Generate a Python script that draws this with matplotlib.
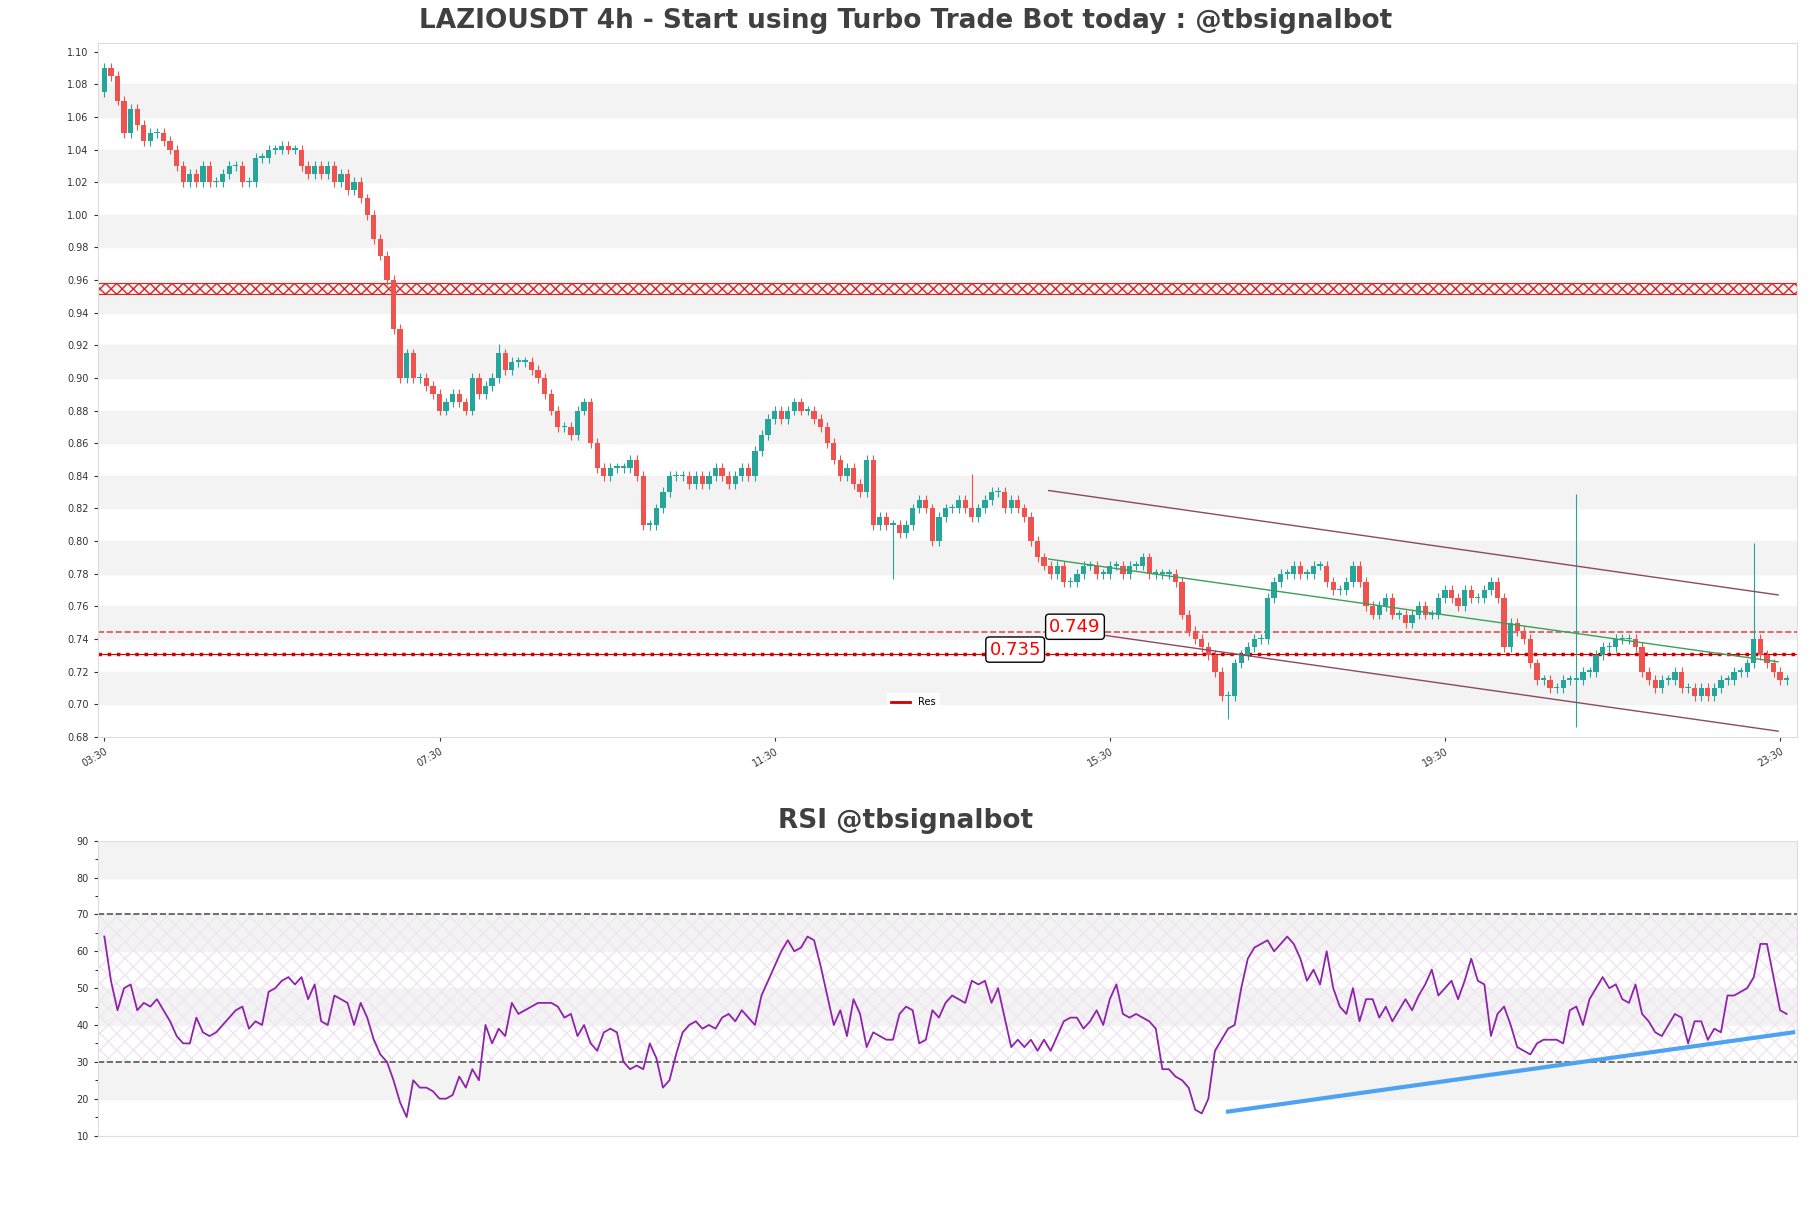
import numpy as np
import matplotlib.pyplot as plt

closes = [1.09, 1.085, 1.07, 1.05, 1.065, 1.055, 1.045,
          1.05, 1.05, 1.045, 1.04, 1.03, 1.02,
          1.025, 1.02, 1.03, 1.02, 1.02, 1.025, 1.03, 1.03,
          1.02, 1.02, 1.035, 1.035, 1.04, 1.04, 1.042, 1.04, 1.04, 1.03,
          1.025, 1.03, 1.025, 1.03, 1.02, 1.025, 1.015, 1.02, 1.01, 1.0,
          0.985, 0.975, 0.96, 0.93, 0.9,
          0.915, 0.9, 0.9, 0.895, 0.89, 0.88, 0.885, 0.89, 0.885, 0.88,
          0.9, 0.89, 0.895, 0.9, 0.915, 0.905, 0.91, 0.91, 0.91, 0.905,
          0.9, 0.89, 0.88, 0.87, 0.87, 0.865, 0.88, 0.885, 0.86, 0.845,
          0.84, 0.845, 0.845, 0.845, 0.85, 0.84, 0.81, 0.81, 0.82, 0.83,
          0.84, 0.84, 0.84, 0.835, 0.84, 0.835, 0.84, 0.845, 0.84, 0.835,
          0.84, 0.845, 0.84, 0.855, 0.865, 0.875, 0.88, 0.875, 0.88, 0.885,
          0.88, 0.88, 0.875, 0.87, 0.86, 0.85, 0.84, 0.845, 0.835, 0.83,
          0.85, 0.81, 0.815, 0.81, 0.81,
          0.805, 0.81, 0.82, 0.825, 0.82, 0.8, 0.815, 0.82, 0.82, 0.825,
          0.82, 0.815, 0.82, 0.825, 0.83, 0.83, 0.82, 0.825, 0.82, 0.815,
          0.8, 0.79, 0.785, 0.78, 0.785, 0.775, 0.775, 0.78, 0.785, 0.785,
          0.78, 0.78, 0.785, 0.785, 0.78, 0.785, 0.785, 0.79, 0.78, 0.78,
          0.78, 0.78, 0.775, 0.755, 0.745, 0.74, 0.735, 0.73, 0.72, 0.705,
          0.705, 0.725, 0.73, 0.735, 0.74, 0.74, 0.765, 0.775, 0.78, 0.78,
          0.785, 0.78, 0.78, 0.785, 0.785, 0.775, 0.77, 0.77, 0.775, 0.785,
          0.775, 0.76, 0.755, 0.76, 0.765, 0.755, 0.755, 0.75, 0.755, 0.76,
          0.755, 0.755, 0.765, 0.77, 0.765, 0.76, 0.77, 0.765, 0.765, 0.77,
          0.775, 0.765, 0.735, 0.75, 0.745, 0.74, 0.725, 0.715, 0.715, 0.71,
          0.71, 0.715, 0.715, 0.715, 0.72, 0.72, 0.73, 0.735, 0.735, 0.74,
          0.74, 0.74, 0.735, 0.72, 0.715, 0.71, 0.715, 0.715, 0.72, 0.71,
          0.71, 0.705, 0.71, 0.705, 0.71, 0.715, 0.715, 0.72, 0.72, 0.725,
          0.74, 0.73, 0.725, 0.72, 0.715, 0.715]
open0 = 1.075
big_highs = {224: 0.829, 251: 0.799, 60: 0.921, 132: 0.841}
big_lows = {224: 0.686, 171: 0.691, 120: 0.777}

rsi = [64, 52, 44, 50, 51, 44, 46, 45, 47, 44,
       41, 37, 35, 35, 42, 38, 37, 38, 40, 42,
       44, 45, 39, 41, 40, 49, 50, 52, 53, 51,
       53, 47, 51, 41, 40, 48, 47, 46, 40, 46,
       42, 36, 32, 30, 25, 19, 15, 25, 23, 23,
       22, 20, 20, 21, 26, 23, 28, 25, 40, 35,
       39, 37, 46, 43, 44, 45, 46, 46, 46, 45,
       42, 43, 37, 40, 35, 33, 38, 39, 38, 30,
       28, 29, 28, 35, 31, 23, 25, 32, 38, 40,
       41, 39, 40, 39, 42, 43, 41, 44, 42, 40,
       48, 52, 56, 60, 63, 60, 61, 64, 63, 56,
       48, 40, 44, 37, 47, 43, 34, 38, 37, 36,
       36, 43, 45, 44, 35, 36, 44, 42, 46, 48,
       47, 46, 52, 51, 52, 46, 50, 42, 34, 36,
       34, 36, 33, 36, 33, 37, 41, 42, 42, 39,
       41, 44, 40, 47, 51, 43, 42, 43, 42, 41,
       39, 28, 28, 26, 25, 23, 17, 16, 20, 33,
       36, 39, 40, 50, 58, 61, 62, 63, 60, 62,
       64, 62, 58, 52, 55, 51, 60, 50, 45, 43,
       50, 41, 47, 47, 42, 45, 41, 44, 47, 44,
       48, 51, 55, 48, 50, 52, 47, 52, 58, 52,
       51, 37, 43, 45, 40, 34, 33, 32, 35, 36,
       36, 36, 35, 44, 45, 40, 47, 50, 53, 50,
       51, 47, 46, 51, 43, 41, 38, 37, 40, 43,
       42, 35, 41, 41, 36, 39, 38, 48, 48, 49,
       50, 53, 62, 62, 53, 44, 43]

tick_pos = [0, 51, 102, 153, 204, 255]
tick_labels = ['03:30', '07:30', '11:30', '15:30', '19:30', '23:30']
res_band = (0.9515, 0.9585)
res_dashed = 0.7445
res_dotted = 0.731
upper_chan = ([143.7, 254.7], [0.831, 0.767])
lower_chan = ([150, 254.7], [0.7435, 0.6835])
green_line = ([143.7, 254.7], [0.789, 0.726])
rsi_trend = ([171, 257], [16.5, 38])

fig = plt.figure(figsize=(18.11, 12.08), dpi=100)
ax = fig.add_axes([0.054, 0.39, 0.938, 0.574])
ax2 = fig.add_axes([0.054, 0.06, 0.938, 0.244])

n = len(closes)
opens = [open0] + closes[:-1]
for i in range(n):
    o, c = opens[i], closes[i]
    col = '#26a69a' if c >= o else '#ef5350'
    hi = big_highs.get(i, max(o, c) + 0.003)
    lo = big_lows.get(i, min(o, c) - 0.003)
    ax.vlines(i, lo, hi, color=col, lw=0.8, zorder=3)
    h = abs(c - o) if abs(c - o) > 0.0008 else 0.0008
    ax.bar(i, h, bottom=min(o, c), width=0.8, color=col, zorder=4)

for y in np.arange(0.70, 1.08, 0.04):
    ax.axhspan(y, y + 0.02, color='#f3f3f3', zorder=0)
ax.axhspan(*res_band, facecolor='none', edgecolor='#d62728', hatch='xxx', lw=0.8, zorder=2)
ax.axhline(res_dashed, color='#e05050', ls='--', lw=1.2, zorder=2)
ax.axhline(res_dotted, color='#cc0000', ls=':', lw=2.5, zorder=2)
ax.axhline(res_dotted, color='#cc0000', lw=0.8, zorder=2)
ax.text(147.7, 0.7475, '0.749', color='red', fontsize=13, ha='center', va='center',
        bbox=dict(boxstyle='round,pad=0.2', fc='white', ec='black'), zorder=6)
ax.text(138.6, 0.7335, '0.735', color='red', fontsize=13, ha='center', va='center',
        bbox=dict(boxstyle='round,pad=0.2', fc='white', ec='black'), zorder=6)
ax.plot(*upper_chan, color='#8b4a62', lw=1, zorder=5)
ax.plot(*lower_chan, color='#8b4a62', lw=1, zorder=5)
ax.plot(*green_line, color='#3aa05a', lw=1, zorder=5)
ax.plot([], [], color='#cc0000', lw=2, label='Res')
ax.legend(loc='lower center', bbox_to_anchor=(0.48, 0.03), fontsize=7, frameon=True, edgecolor='white')

ax.set_xlim(-1, 257.5)
ax.set_ylim(0.68, 1.105)
ax.set_yticks(np.arange(0.68, 1.101, 0.02))
ax.set_yticklabels(['%.2f' % v for v in np.arange(0.68, 1.101, 0.02)])
ax.set_xticks(tick_pos)
ax.set_xticklabels(tick_labels, rotation=30, ha='right', rotation_mode='anchor')
ax.tick_params(labelsize=7, colors='#333333', length=3)
fig.text(0.5, 0.972, 'LAZIOUSDT 4h - Start using Turbo Trade Bot today : @tbsignalbot',
         fontsize=19, fontweight='bold', color='#404040', ha='center', va='bottom')

for y in [20, 40, 60, 80]:
    ax2.axhspan(y, y + 10, color='#f3f3f3', zorder=0)
ax2.axhspan(30, 70, facecolor='none', edgecolor='#f0e4f2', hatch='xx', lw=0, zorder=1)
ax2.axhline(70, color='#555555', ls='--', lw=1.2)
ax2.axhline(30, color='#555555', ls='--', lw=1.2)
ax2.plot(range(len(rsi)), rsi, color='#8e24aa', lw=1.3, zorder=3)
ax2.plot(*rsi_trend, color='#4da3f0', lw=3, zorder=4)
ax2.set_xlim(-1, 257.5)
ax2.set_ylim(10, 90)
ax2.set_yticks(range(10, 91, 10))
ax2.set_yticks(range(15, 90, 10), minor=True)
ax2.set_xticks([])
ax2.tick_params(labelsize=7, colors='#333333', length=3)
ax2.tick_params(which='minor', length=2)
fig.text(0.5, 0.31, 'RSI @tbsignalbot', fontsize=19, fontweight='bold', color='#404040',
         ha='center', va='bottom')

for a in (ax, ax2):
    for s in a.spines.values():
        s.set_color('#dddddd')

fig.savefig('out.png', dpi=100)
